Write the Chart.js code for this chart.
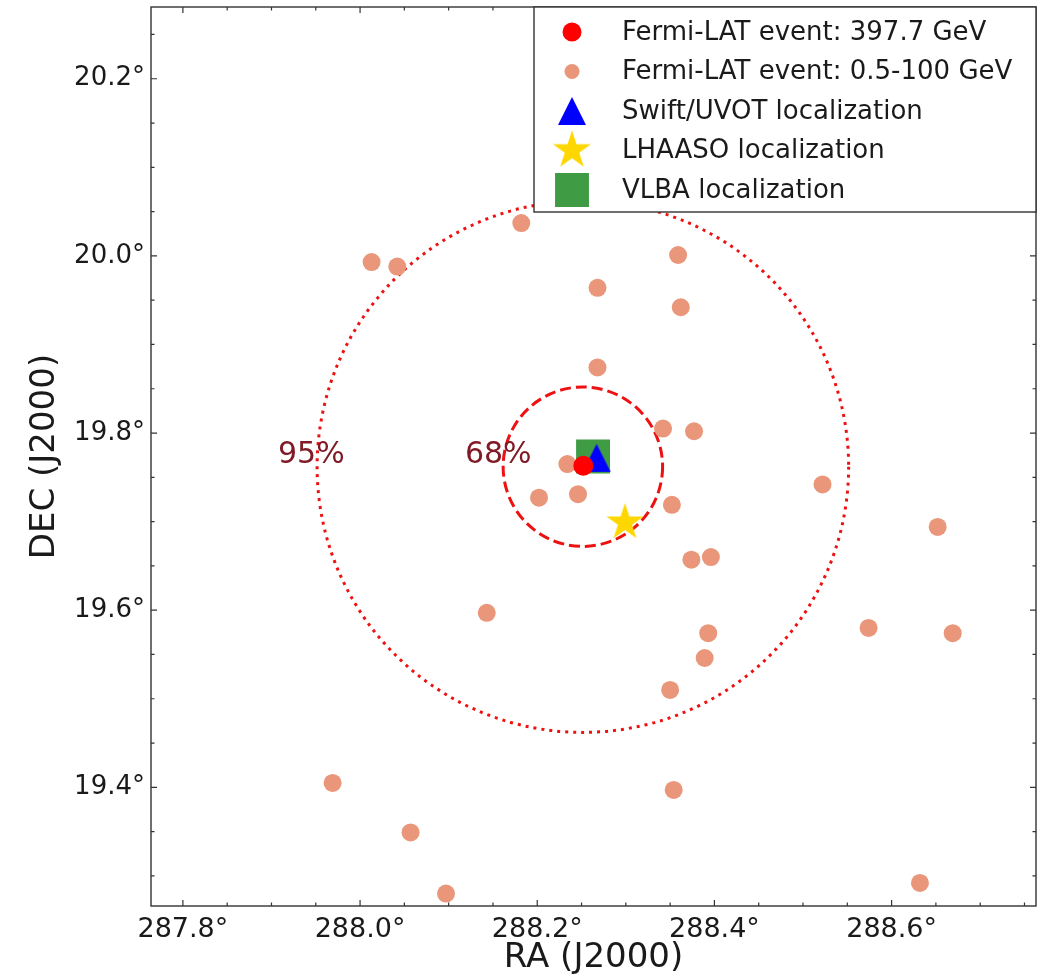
<!DOCTYPE html>
<html><head><meta charset="utf-8">
<script src="https://cdn.jsdelivr.net/npm/chart.js@4.4.1/dist/chart.umd.min.js"></script>
<style>html,body{margin:0;padding:0;background:#fff}#wrap{width:1053px;height:979px}</style>
</head><body><div id="wrap"><canvas id="c" width="1053" height="979"></canvas></div>
<script>
// ---- data (degrees) ----
const eventRA = [288.252];
const eventDEC = [19.763];
const lowRA = [288.182, 288.013, 288.042, 288.268, 288.268, 288.234, 288.202, 288.246,
  288.359, 288.362, 288.342, 288.377, 288.522, 288.352, 288.652, 288.374, 288.396,
  288.143, 287.969, 288.057, 288.097, 288.393, 288.574, 288.669, 288.389, 288.350, 288.354, 288.632];
const lowDEC = [20.037, 19.993, 19.988, 19.964, 19.874, 19.765, 19.727, 19.731,
  20.001, 19.942, 19.805, 19.802, 19.742, 19.719, 19.694, 19.657, 19.660,
  19.597, 19.405, 19.349, 19.280, 19.574, 19.580, 19.574, 19.546, 19.510, 19.397, 19.292];
const uvotRA = [288.267];
const uvotDEC = [19.772];
const lhaasoRA = [288.299];
const lhaasoDEC = [19.699];
const vlbaRA = [288.263];
const vlbaDEC = [19.7735];
const regionCenter = [288.2515, 19.762];
const regionRadii = [0.09, 0.30];
const regionLabels = ['68%', '95%'];
const regionLabelRA = [288.156, 287.945];
const regionLabelDEC = [19.775, 19.775];
const xRange = [287.764, 288.763];
const yRange = [19.266, 20.281];
const xTicks = [287.8, 288.0, 288.2, 288.4, 288.6];
const xTickLabels = ['287.8°', '288.0°', '288.2°', '288.4°', '288.6°'];
const yTicks = [19.4, 19.6, 19.8, 20.0, 20.2];
const yTickLabels = ['19.4°', '19.6°', '19.8°', '20.0°', '20.2°'];
const minorStep = 0.05;
const legendLabels = ['Fermi-LAT event: 397.7 GeV', 'Fermi-LAT event: 0.5-100 GeV',
  'Swift/UVOT localization', 'LHAASO localization', 'VLBA localization'];

const FONT = 'DejaVu Sans';
const zip = (a, b) => a.map((v, i) => ({x: v, y: b[i]}));

// custom marker images (matplotlib-like '^' and '*')
function triangleMarker(color, size) {
  const c = document.createElement('canvas');
  c.width = size + 2; c.height = size + 2;
  const g = c.getContext('2d');
  g.fillStyle = color;
  g.beginPath();
  g.moveTo(c.width / 2, 1); g.lineTo(1, size + 1); g.lineTo(size + 1, size + 1);
  g.closePath(); g.fill();
  return c;
}
function starMarker(color, R) {
  const c = document.createElement('canvas');
  c.width = Math.ceil(2 * R + 2); c.height = c.width;
  const g = c.getContext('2d');
  const cx = c.width / 2, cy = c.height / 2, r = R * 0.382;
  g.fillStyle = color;
  g.beginPath();
  for (let i = 0; i < 10; i++) {
    const a = -Math.PI / 2 + i * Math.PI / 5;
    const rr = i % 2 === 0 ? R : r;
    const px = cx + rr * Math.cos(a), py = cy + rr * Math.sin(a);
    if (i === 0) g.moveTo(px, py); else g.lineTo(px, py);
  }
  g.closePath(); g.fill();
  return c;
}
const triImg = triangleMarker('#0000ff', 28);
const starImg = starMarker('#ffd700', 19.5);
const triLegImg = triangleMarker('#0000ff', 28);
const starLegImg = starMarker('#ffd700', 20);

const ORANGE = '#e9967a';
const GREEN = '#3f9c45';

const regionPlugin = {
  id: 'regions',
  beforeDatasetsDraw(chart) {
    const {ctx, scales: {x, y}} = chart;
    const cx = x.getPixelForValue(regionCenter[0]);
    const cy = y.getPixelForValue(regionCenter[1]);
    ctx.save();
    regionRadii.forEach((r, i) => {
      const rx = Math.abs(x.getPixelForValue(regionCenter[0] + r) - cx);
      const ry = Math.abs(y.getPixelForValue(regionCenter[1] + r) - cy);
      ctx.beginPath();
      ctx.ellipse(cx, cy, rx, ry, 0, 0, Math.PI * 2);
      ctx.strokeStyle = '#ee1111';
      ctx.lineWidth = 3;
      ctx.setLineDash(i === 0 ? [11, 5] : [3, 5]);
      ctx.stroke();
    });
    ctx.setLineDash([]);
    ctx.fillStyle = '#801a26';
    ctx.font = '30px "' + FONT + '"';
    ctx.textAlign = 'center';
    ctx.textBaseline = 'middle';
    regionLabels.forEach((t, i) => {
      ctx.fillText(t, x.getPixelForValue(regionLabelRA[i]), y.getPixelForValue(regionLabelDEC[i]));
    });
    ctx.restore();
  }
};

const framePlugin = {
  id: 'frame',
  afterDatasetsDraw(chart) {
    const {ctx, chartArea: a, scales: {x, y}} = chart;
    ctx.save();
    ctx.strokeStyle = '#333';
    ctx.lineWidth = 1.4;
    ctx.strokeRect(a.left, a.top, a.right - a.left, a.bottom - a.top);
    ctx.lineWidth = 1.2;
    const isMajor = v => Math.abs(v / 0.2 - Math.round(v / 0.2)) < 1e-6;
    const steps = (lo, hi) => {
      const out = [];
      for (let k = Math.ceil(lo / minorStep - 1e-9); k * minorStep <= hi + 1e-9; k++) out.push(+(k * minorStep).toFixed(4));
      return out;
    };
    ctx.beginPath();
    steps(x.min, x.max).forEach(v => {
      const p = x.getPixelForValue(v), L = isMajor(v) ? 6 : 3.5;
      ctx.moveTo(p, a.bottom); ctx.lineTo(p, a.bottom - L);
      ctx.moveTo(p, a.top); ctx.lineTo(p, a.top + L);
    });
    steps(y.min, y.max).forEach(v => {
      const p = y.getPixelForValue(v), L = isMajor(v) ? 6 : 3.5;
      ctx.moveTo(a.left, p); ctx.lineTo(a.left + L, p);
      ctx.moveTo(a.right, p); ctx.lineTo(a.right - L, p);
    });
    ctx.stroke();
    ctx.restore();
  },
  afterDraw(chart) {
    // legend box, upper right
    const {ctx, chartArea: a} = chart;
    const W = 502, H = 205;
    const L = a.right - W, T = a.top;
    ctx.save();
    ctx.fillStyle = '#fff';
    ctx.fillRect(L, T, W, H);
    ctx.strokeStyle = '#333';
    ctx.lineWidth = 1.4;
    ctx.strokeRect(L, T, W, H);
    const markers = [
      {pointStyle: 'circle', radius: 9.5, color: '#ff0000'},
      {pointStyle: 'circle', radius: 7.5, color: ORANGE},
      {pointStyle: triLegImg, radius: 14, color: '#0000ff'},
      {pointStyle: starLegImg, radius: 20, color: '#ffd700'},
      {pointStyle: 'rect', radius: 24, color: GREEN}
    ];
    ctx.font = '26px "' + FONT + '"';
    ctx.textBaseline = 'middle';
    ctx.textAlign = 'left';
    legendLabels.forEach((t, i) => {
      const yy = T + 25 + i * 39.5;
      const m = markers[i];
      ctx.fillStyle = m.color;
      Chart.helpers.drawPoint(ctx, {pointStyle: m.pointStyle, radius: m.radius, rotation: 0, borderWidth: 0}, L + 38, yy);
      ctx.fillStyle = '#1a1a1a';
      ctx.fillText(t, L + 88, yy + 1);
    });
    ctx.restore();
  }
};

new Chart(document.getElementById('c'), {
  type: 'scatter',
  data: {
    datasets: [
      {label: legendLabels[0], data: zip(eventRA, eventDEC), order: 0,
        pointRadius: 10, backgroundColor: '#ff0000', borderWidth: 0},
      {label: legendLabels[2], data: zip(uvotRA, uvotDEC), order: 1,
        pointStyle: triImg, pointRadius: 14, backgroundColor: '#0000ff', borderWidth: 0},
      {label: legendLabels[4], data: zip(vlbaRA, vlbaDEC), order: 2,
        pointStyle: 'rect', pointRadius: 24, backgroundColor: GREEN, borderWidth: 0},
      {label: legendLabels[3], data: zip(lhaasoRA, lhaasoDEC), order: 3,
        pointStyle: starImg, pointRadius: 20, backgroundColor: '#ffd700', borderWidth: 0},
      {label: legendLabels[1], data: zip(lowRA, lowDEC), order: 4,
        pointRadius: 9, backgroundColor: ORANGE, borderWidth: 0}
    ]
  },
  options: {
    responsive: false,
    animation: false,
    devicePixelRatio: 1,
    events: [],
    layout: {autoPadding: false, padding: {left: 0, right: 17, top: 7, bottom: 0}},
    plugins: {legend: {display: false}, tooltip: {enabled: false}},
    scales: {
      x: {
        type: 'linear', position: 'bottom', min: xRange[0], max: xRange[1],
        grid: {display: false, drawTicks: false}, border: {display: false},
        afterBuildTicks: s => { s.ticks = xTicks.map(v => ({value: v})); },
        afterFit: s => { s.height = 73; s.paddingLeft = 0; s.paddingRight = 0; s.paddingTop = 0; s.paddingBottom = 0; },
        ticks: {autoSkip: false, maxRotation: 0, padding: 8, color: '#1a1a1a',
          font: {family: FONT, size: 27},
          callback: (v) => { const i = xTicks.findIndex(t => Math.abs(t - v) < 1e-6); return i >= 0 ? xTickLabels[i] : ''; }},
        title: {display: true, text: 'RA (J2000)', color: '#1a1a1a', padding: {top: 0, bottom: 0},
          font: {family: FONT, size: 34}}
      },
      y: {
        type: 'linear', position: 'left', min: yRange[0], max: yRange[1],
        grid: {display: false, drawTicks: false}, border: {display: false},
        afterBuildTicks: s => { s.ticks = yTicks.map(v => ({value: v})); },
        afterFit: s => { s.width = 151; s.paddingLeft = 0; s.paddingRight = 0; s.paddingTop = 0; s.paddingBottom = 0; },
        ticks: {autoSkip: false, padding: 6, color: '#1a1a1a',
          font: {family: FONT, size: 26},
          callback: (v) => { const i = yTicks.findIndex(t => Math.abs(t - v) < 1e-6); return i >= 0 ? yTickLabels[i] : ''; }},
        title: {display: true, text: 'DEC (J2000)', color: '#1a1a1a', padding: {top: 25, bottom: 0},
          font: {family: FONT, size: 34}}
      }
    }
  },
  plugins: [regionPlugin, framePlugin]
});
</script>
</body></html>
